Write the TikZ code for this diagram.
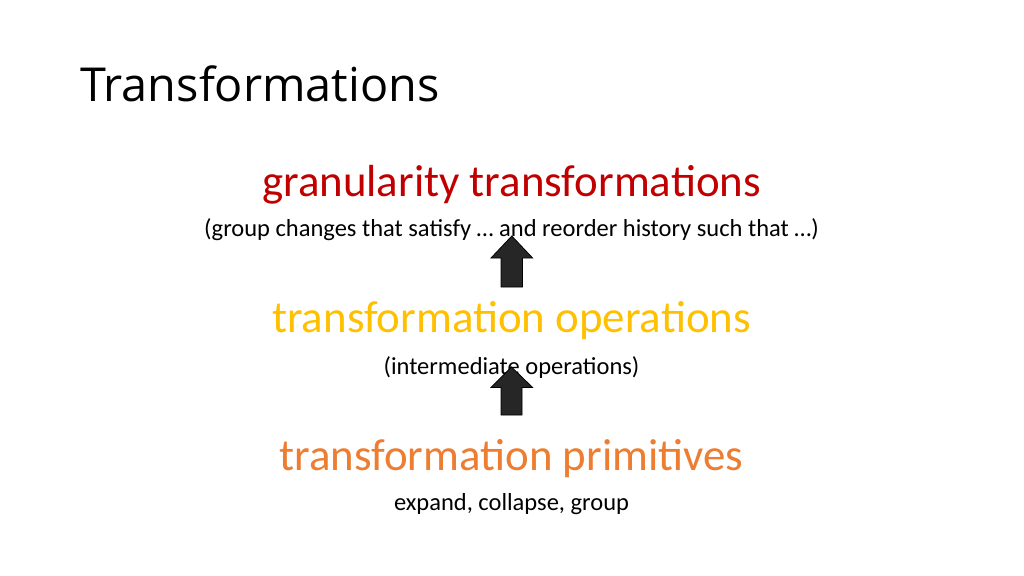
\documentclass[tikz,border=0pt]{standalone}
\usepackage{fontspec}
\setmainfont{Carlito}
\newfontfamily\titlefont{Open Sans}
\definecolor{cred}{HTML}{C00000}
\definecolor{cyel}{HTML}{FFC000}
\definecolor{corg}{HTML}{ED7D31}
\definecolor{arrowfill}{HTML}{262626}
\tikzset{
  big/.style={anchor=base, inner sep=0pt, font=\fontsize{44.9}{50}\selectfont},
  small/.style={anchor=base, inner sep=0pt, text=black, font=\fontsize{24.5}{28}\selectfont},
  blockarrow/.style={fill=arrowfill, draw=black, line width=0.8pt, line join=miter}
}
\begin{document}
\begin{tikzpicture}[x=1pt,y=-1pt]
\useasboundingbox[fill=white] (0,0) rectangle (1024,575);
\node[anchor=base west, inner sep=0pt, font=\titlefont\fontsize{46.8}{52}\selectfont] (title) at (80,101.5) {Transformations};
\node[big, text=cred] (gran) at (511.5,196.5) {granularity transformations};
\node[small] (gransub) at (511.5,236.5) {(group changes that satisfy … and reorder history such that …)};
\node[big, text=cyel] (ops) at (511.5,332.5) {transformation operations};
\node[small] (opssub) at (511.5,374.5) {(intermediate operations)};
\node[big, text=corg] (prim) at (511.5,470) {transformation primitives};
\node[small] (primsub) at (511.5,510.5) {expand, collapse, group};
% block arrows
\draw[blockarrow] (501,287) -- (501,258) -- (491,258) -- (511.8,236) -- (532.6,258) -- (522.4,258) -- (522.4,287) -- cycle;
\draw[blockarrow] (501,415) -- (501,387.5) -- (491,387.5) -- (511.5,367) -- (532.6,387.5) -- (522,387.5) -- (522,415) -- cycle;
\end{tikzpicture}
\end{document}
